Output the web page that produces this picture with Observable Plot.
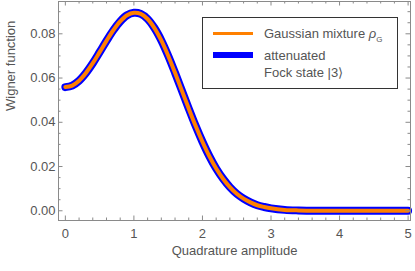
<!DOCTYPE html>
<html><head><meta charset="utf-8">
<script src="https://cdn.jsdelivr.net/npm/d3@7"></script>
<script src="https://cdn.jsdelivr.net/npm/@observablehq/plot@0.6"></script>
<style>
body{margin:0;background:#fff;}
#wrap{position:relative;width:415px;height:271px;font-family:"Liberation Sans",Arial,sans-serif;color:#555;}
#legend{position:absolute;left:202px;top:17px;width:196px;height:72px;border:1px solid #333;background:#fff;box-sizing:border-box;font-size:13px;}
#legend .sw{position:absolute;left:10px;width:40px;}
#legend .t{position:absolute;left:61px;white-space:nowrap;line-height:17px;}
</style></head>
<body><div id="wrap"></div>
<script>
// Quadrature amplitude (x) and Wigner function values
const amplitude = [0,0.1,0.2,0.3,0.4,0.5,0.6,0.7,0.8,0.9,1.0,1.1,1.2,1.3,1.4,1.5,1.6,1.7,1.8,1.9,2.0,2.1,2.2,2.3,2.4,2.5,2.6,2.7,2.8,2.9,3.0,3.2,3.4,3.6,3.8,4.0,4.5,5.0];
const fockState = [0.0559,0.0566,0.0588,0.0623,0.0667,0.0717,0.0768,0.0816,0.0856,0.0884,0.0895,0.0890,0.0867,0.0826,0.0770,0.0701,0.0624,0.0543,0.0462,0.0384,0.0312,0.0247,0.0191,0.0145,0.0107,0.0077,0.0055,0.0038,0.0025,0.0017,0.0011,0.0004,0.00015,0.00005,0.00001,0,0,0];
const gaussianMixture = [0.0559,0.0566,0.0588,0.0623,0.0667,0.0717,0.0768,0.0816,0.0856,0.0884,0.0895,0.0890,0.0867,0.0826,0.0770,0.0701,0.0624,0.0543,0.0462,0.0384,0.0312,0.0247,0.0191,0.0145,0.0107,0.0077,0.0055,0.0038,0.0025,0.0017,0.0011,0.0004,0.00015,0.00005,0.00001,0,0,0];
const xMajor = [0,1,2,3,4,5];
const xMinor = [0.2,0.4,0.6,0.8,1.2,1.4,1.6,1.8,2.2,2.4,2.6,2.8,3.2,3.4,3.6,3.8,4.2,4.4,4.6,4.8];
const yMajor = [0,0.02,0.04,0.06,0.08];
const yMinor = [0.005,0.01,0.015,0.025,0.03,0.035,0.045,0.05,0.055,0.065,0.07,0.075,0.085,0.09];

const fock = amplitude.map((a,i)=>({x:a,y:fockState[i]}));
const gauss = amplitude.map((a,i)=>({x:a,y:gaussianMixture[i]}));

const W=415,H=271,mL=58,mR=5,mT=1,mB=51;
const fh=H-mT-mB, fw=W-mL-mR;
const frameC="#8a8a8a";
const chart = Plot.plot({
  width:W,height:H,marginLeft:mL,marginRight:mR,marginTop:mT,marginBottom:mB,
  x:{domain:[-0.1,5.035]},
  y:{domain:[-0.0044,0.0946]},
  style:{fontFamily:'"Liberation Sans",Arial,sans-serif',fontSize:"13px",color:"#555",background:"white"},
  marks:[
    Plot.line(fock,{x:"x",y:"y",stroke:"#0000ff",strokeWidth:8,curve:"catmull-rom"}),
    Plot.line(gauss,{x:"x",y:"y",stroke:"#ff8000",strokeWidth:4,curve:"catmull-rom"}),
    Plot.ruleX(xMajor,{x:d=>d,insetTop:fh-4.5,stroke:frameC}),
    Plot.ruleX(xMajor,{x:d=>d,insetBottom:fh-4.5,stroke:frameC}),
    Plot.ruleX(xMinor,{x:d=>d,insetTop:fh-2.5,stroke:frameC}),
    Plot.ruleX(xMinor,{x:d=>d,insetBottom:fh-2.5,stroke:frameC}),
    Plot.ruleY(yMajor,{y:d=>d,insetRight:fw-4.5,stroke:frameC}),
    Plot.ruleY(yMajor,{y:d=>d,insetLeft:fw-4.5,stroke:frameC}),
    Plot.ruleY(yMinor,{y:d=>d,insetRight:fw-2.5,stroke:frameC}),
    Plot.ruleY(yMinor,{y:d=>d,insetLeft:fw-2.5,stroke:frameC}),
    Plot.frame({stroke:frameC}),
    Plot.axisX(xMajor,{tickSize:0,tickPadding:8,label:null,fill:"#555"}),
    Plot.axisY(yMajor,{tickSize:0,tickPadding:3,tickFormat:d3.format(".2f"),label:null,fill:"#555"}),
    Plot.text(["Quadrature amplitude"],{frameAnchor:"bottom",dy:34,fill:"#555"}),
    Plot.text(["Wigner function"],{frameAnchor:"left",rotate:-90,dx:-48,fill:"#555"})
  ]
});
const wrap=document.getElementById("wrap");
wrap.appendChild(chart);
const lg=document.createElement("div");
lg.id="legend";
lg.innerHTML=
 '<div class="sw" style="top:14px;height:2.5px;background:#ff8000"></div>'+
 '<div class="t" style="top:7px">Gaussian mixture <i>ρ</i><sub style="font-size:8px">G</sub></div>'+
 '<div class="sw" style="top:34px;height:5.5px;background:#0000ff"></div>'+
 '<div class="t" style="top:28.5px">attenuated</div>'+
 '<div class="t" style="top:45.5px">Fock state |3⟩</div>';
wrap.appendChild(lg);
</script></body></html>
